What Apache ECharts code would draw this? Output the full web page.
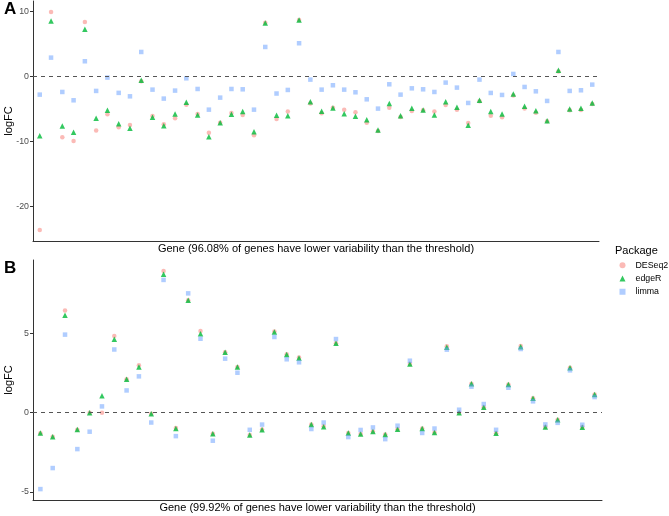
<!DOCTYPE html>
<html>
<head>
<meta charset="utf-8">
<script src="https://cdn.jsdelivr.net/npm/echarts@6/dist/echarts.min.js"></script>
<style>
html,body{margin:0;padding:0;background:#fff;}
#chart{width:669px;height:516px;}
</style>
</head>
<body>
<div id="chart"></div>
<script>
// ---- Data ----
const seriesNames = ['DESeq2', 'edgeR', 'limma'];
const xTitleA = 'Gene (96.08% of genes have lower variability than the threshold)';
const xTitleB = 'Gene (99.92% of genes have lower variability than the threshold)';
const yTitle = 'logFC';
const legendTitle = 'Package';
const yTicksA = [-20, -10, 0, 10];
const yTicksB = [-5, 0, 5];

const deseq2A = [-23.6, 9.95, -9.33, -9.9, 8.41, -8.3, -5.8, -7.8, -7.44, -0.72, -6.05, -7.33, -6.41, -4.31, -5.74, -8.62, -7.08, -5.6, -5.9, -9.03, 8.3, -6.5, -5.38, 8.7, -4.15, -5.64, -4.77, -5.08, -5.49, -7.08, -8.36, -4.77, -6.2, -5.28, -5.18, -5.38, -4.36, -5.08, -7.13, -3.79, -6.0, -6.26, -2.92, -4.92, -5.54, -6.87, 0.77, -5.18, -5.13, -4.2];
const edgeRA = [-9.1, 8.56, -7.6, -8.56, 7.28, -6.4, -5.18, -7.23, -7.95, -0.56, -6.26, -7.54, -5.74, -3.95, -5.9, -9.23, -7.08, -5.8, -5.38, -8.46, 8.26, -5.95, -6.0, 8.7, -3.85, -5.33, -4.82, -5.7, -6.1, -6.62, -8.2, -4.15, -6.0, -4.87, -5.13, -5.9, -3.88, -4.72, -7.49, -3.64, -5.38, -5.74, -2.67, -4.56, -5.23, -6.77, 0.97, -4.97, -4.87, -4.05];
const limmaA = [-2.77, 2.92, -2.36, -3.64, 2.36, -2.2, -0.15, -2.5, -3.03, 3.79, -2.0, -3.38, -2.15, -0.26, -1.9, -5.08, -3.23, -1.9, -1.95, -5.08, 4.56, -2.6, -2.05, 5.13, -0.46, -2.0, -1.33, -2.0, -2.41, -3.49, -4.92, -1.18, -2.77, -1.8, -1.95, -2.36, -0.92, -1.69, -4.05, -0.46, -2.51, -2.82, 0.41, -1.59, -2.26, -3.74, 3.79, -2.2, -2.1, -1.23];

const deseq2B = [-1.3, -1.52, 6.46, -1.08, 0.0, 0.0, 4.85, 2.11, 3.0, -0.06, 8.97, -0.97, 7.11, 5.17, -1.33, 3.82, 2.9, -1.41, -1.06, 5.14, 3.7, 3.5, -0.74, -0.86, 4.39, -1.28, -1.34, -1.18, -1.38, -1.04, 3.08, -1.0, -1.25, 4.2, 0.0, 1.84, 0.34, -1.3, 1.79, 4.22, 0.91, -0.9, -0.45, 2.85, -0.9, 1.16];
const edgeRB = [-1.29, -1.52, 6.16, -1.06, 0.0, 1.08, 4.64, 2.11, 2.89, -0.06, 8.76, -0.99, 7.11, 5.0, -1.33, 3.82, 2.89, -1.41, -1.08, 5.1, 3.69, 3.46, -0.75, -0.88, 4.39, -1.28, -1.34, -1.18, -1.38, -1.04, 3.08, -1.0, -1.25, 4.14, 0.0, 1.84, 0.34, -1.3, 1.79, 4.18, 0.91, -0.9, -0.45, 2.85, -0.92, 1.16];
const limmaB = [-4.83, -3.5, 4.94, -2.3, -1.2, 0.4, 4.0, 1.41, 2.3, -0.62, 8.4, -1.48, 7.55, 4.68, -1.77, 3.42, 2.53, -1.08, -0.75, 4.79, 3.38, 3.19, -1.03, -0.62, 4.66, -1.54, -1.09, -0.93, -1.67, -0.82, 3.29, -1.28, -1.0, 3.99, 0.19, 1.65, 0.55, -1.08, 1.58, 4.03, 0.72, -0.74, -0.64, 2.68, -0.76, 0.99];

// ---- Styling ----
const colors = ['#F8766D', '#00BA38', '#619CFF'];
const opac = [0.5, 0.8, 0.5];
const symbols = ['circle', 'triangle', 'rect'];
const sizes = [4.5, 5.5, 4.5];
const FONT = 'Liberation Sans, Arial, sans-serif';

function range(arrs) {
  let mn = Infinity, mx = -Infinity;
  arrs.forEach(a => a.forEach(v => { mn = Math.min(mn, v); mx = Math.max(mx, v); }));
  const pad = (mx - mn) * 0.05;
  return [mn - pad, mx + pad];
}
const rA = range([deseq2A, edgeRA, limmaA]);
const rB = range([deseq2B, edgeRB, limmaB]);

function toPts(arr) { return arr.map((v, i) => [i, v]); }

function xAxisDef(gi, n, title) {
  return {
    type: 'value', gridIndex: gi, min: -0.6, max: n - 1 + 0.6,
    axisLine: { show: true, onZero: false, lineStyle: { color: '#333', width: 1 } },
    axisTick: { show: false }, axisLabel: { show: false }, splitLine: { show: false },
    name: title, nameLocation: 'middle', nameGap: 2, nameMoveOverlap: false,
    nameTextStyle: { fontFamily: FONT, fontSize: 11, color: '#000', verticalAlign: 'top' }
  };
}
function yAxisDef(gi, r, ticks) {
  return {
    type: 'value', gridIndex: gi, min: r[0], max: r[1],
    axisLine: { show: true, onZero: false, lineStyle: { color: '#333', width: 1 } },
    axisTick: { show: true, length: 3, customValues: ticks, lineStyle: { color: '#333' } },
    axisLabel: { show: true, customValues: ticks, fontFamily: FONT, fontSize: 8.8, color: '#4D4D4D', margin: 4 },
    splitLine: { show: false },
    name: yTitle, nameLocation: 'middle', nameGap: 19, nameRotate: 90, nameMoveOverlap: false,
    nameTextStyle: { fontFamily: FONT, fontSize: 11, color: '#000' }
  };
}

const series = [];
[[deseq2A, edgeRA, limmaA, 0], [deseq2B, edgeRB, limmaB, 1]].forEach(p => {
  const gi = p[3];
  for (let k = 0; k < 3; k++) {
    const s = {
      type: 'scatter', name: seriesNames[k], xAxisIndex: gi, yAxisIndex: gi,
      data: toPts(p[k]), symbol: symbols[k], symbolSize: sizes[k],
      itemStyle: { color: colors[k], opacity: opac[k] },
      emphasis: { disabled: true }, silent: true
    };
    if (k === 0) {
      s.markLine = {
        silent: true, symbol: 'none', label: { show: false },
        lineStyle: { color: '#555', type: [4, 4], width: 1 },
        data: [{ yAxis: 0 }]
      };
    }
    series.push(s);
  }
});

const chart = echarts.init(document.getElementById('chart'), null, { renderer: 'canvas' });
chart.setOption({
  animation: false,
  backgroundColor: '#fff',
  grid: [
    { left: 33, right: 70, top: 1, height: 240, outerBoundsMode: 'none', containLabel: false },
    { left: 33, right: 67, top: 260, height: 240, outerBoundsMode: 'none', containLabel: false }
  ],
  xAxis: [xAxisDef(0, deseq2A.length, xTitleA), xAxisDef(1, deseq2B.length, xTitleB)],
  yAxis: [yAxisDef(0, rA, yTicksA), yAxisDef(1, rB, yTicksB)],
  legend: {
    orient: 'vertical', left: 619.5, top: 258.5, padding: 0,
    data: seriesNames.map((n, k) => ({ name: n, itemStyle: { color: colors[k], opacity: opac[k] } })),
    itemWidth: 6, itemHeight: 6, itemGap: 0,
    textStyle: { fontFamily: FONT, fontSize: 8.8, color: '#000', lineHeight: 13.3, padding: [0, 0, 0, 5] },
    selectedMode: false
  },
  graphic: [
    { type: 'text', left: 4, top: 1, style: { text: 'A', font: 'bold 17px ' + FONT, fill: '#000' } },
    { type: 'text', left: 4, top: 260, style: { text: 'B', font: 'bold 17px ' + FONT, fill: '#000' } },
    { type: 'text', left: 615, top: 245, style: { text: legendTitle, font: '11px ' + FONT, fill: '#000' } }
  ],
  series: series
});
</script>
</body>
</html>
